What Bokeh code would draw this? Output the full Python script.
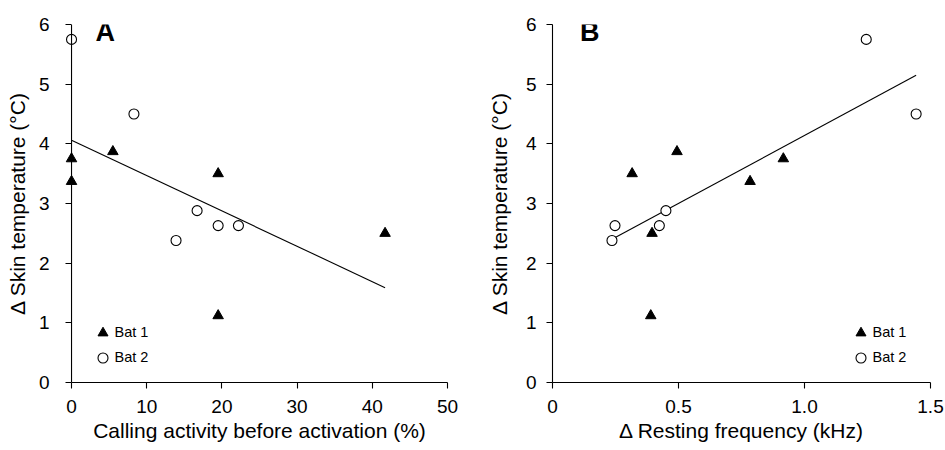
from bokeh.plotting import figure
from bokeh.layouts import row
from bokeh.models import Range1d, FixedTicker, Legend, LegendItem, Label, Span
from bokeh.embed import file_html
from bokeh.resources import INLINE

FONT = "Liberation Sans"

# ---- Panel A data ----
a_bat1_x = [0, 0, 5.5, 19.5, 19.5, 41.7]
a_bat1_y = [3.75, 3.37, 3.87, 3.50, 1.12, 2.50]
a_bat2_x = [0, 8.3, 13.9, 16.7, 19.5, 22.2]
a_bat2_y = [5.75, 4.50, 2.38, 2.88, 2.63, 2.63]
a_fit_x = [0, 41.7]
a_fit_y = [4.06, 1.59]
a_xticks = [0, 10, 20, 30, 40, 50]
a_xtick_labels = ["0", "10", "20", "30", "40", "50"]

# ---- Panel B data ----
b_bat1_x = [0.316, 0.494, 0.390, 0.395, 0.784, 0.916]
b_bat1_y = [3.50, 3.87, 1.12, 2.50, 3.37, 3.75]
b_bat2_x = [0.236, 0.248, 0.424, 0.450, 1.245, 1.443]
b_bat2_y = [2.38, 2.63, 2.63, 2.88, 5.75, 4.50]
b_fit_x = [0.236, 1.443]
b_fit_y = [2.40, 5.15]
b_xticks = [0, 0.5, 1.0, 1.5]
b_xtick_labels = ["0", "0.5", "1.0", "1.5"]

yticks = [0, 1, 2, 3, 4, 5, 6]
y_label = "\u0394 Skin temperature (\u00b0C)"
series_names = ["Bat 1", "Bat 2"]


def make_panel(letter, b1x, b1y, b2x, b2y, fx, fy, xticks, xlabels, xlabel,
               xr, width, bl, br, letter_x, leg_x, shifted_axis):
    p = figure(width=width, height=450, output_backend="svg", toolbar_location=None,
               x_range=Range1d(*xr), y_range=Range1d(0, 6),
               min_border_left=bl, min_border_right=br, min_border_top=24, min_border_bottom=68)
    p.outline_line_color = None
    p.xgrid.visible = False
    p.ygrid.visible = False
    p.background_fill_color = "white"
    p.border_fill_color = "white"

    p.line(fx, fy, line_color="black", line_width=1.1)
    r1 = p.scatter(b1x, b1y, marker="triangle", size=10.5, fill_color="black", line_color="black")
    r2 = p.scatter(b2x, b2y, marker="circle", size=10, fill_color="white", line_color="black",
                   line_width=1.1)

    for ax in (p.xaxis[0], p.yaxis[0]):
        ax.axis_line_color = "black"
        ax.axis_line_width = 1.1
        ax.major_tick_line_color = "black"
        ax.major_tick_line_width = 1.1
        ax.major_tick_in = 0
        ax.major_tick_out = 6
        ax.minor_tick_line_color = None
        ax.major_label_text_font = FONT
        ax.major_label_text_font_size = "19px"
        ax.major_label_text_color = "black"
        ax.axis_label_text_font = FONT
        ax.axis_label_text_font_size = "21px"
        ax.axis_label_text_font_style = "normal"
        ax.axis_label_text_color = "black"

    p.xaxis.ticker = FixedTicker(ticks=xticks)
    p.xaxis.major_label_overrides = {t: l for t, l in zip(xticks, xlabels)}
    p.xaxis.bounds = (xticks[0], xticks[-1])
    p.xaxis.axis_label = xlabel
    p.xaxis.major_label_standoff = 11
    p.xaxis.axis_label_standoff = 3

    p.yaxis.ticker = FixedTicker(ticks=yticks)
    p.yaxis.axis_label = y_label
    p.yaxis.major_label_standoff = 10
    p.yaxis.axis_label_standoff = 12
    if shifted_axis:
        # frame extends a little left of x=0 so markers at x=0 are not clipped;
        # the y axis line is drawn at x = first tick
        p.yaxis.axis_line_color = None
        p.yaxis.major_tick_out = -6
        p.yaxis.major_tick_in = 12
        p.yaxis.axis_label_standoff = 7
        p.add_layout(Span(location=xticks[0], dimension="height", line_color="black",
                          line_width=1.1))

    legend = Legend(items=[LegendItem(label=series_names[0], renderers=[r1]),
                           LegendItem(label=series_names[1], renderers=[r2])],
                    location=(leg_x, 12.5), orientation="vertical",
                    glyph_width=25, glyph_height=25, spacing=0, label_standoff=-3,
                    padding=0, margin=0, border_line_color=None, background_fill_alpha=0,
                    label_text_font=FONT, label_text_font_size="14.5px",
                    label_text_color="black", label_height=20)
    p.add_layout(legend, "center")

    p.add_layout(Label(x=letter_x, y=351, x_units="screen", y_units="screen", text=letter,
                       text_font=FONT, text_font_style="bold", text_font_size="27px",
                       text_baseline="alphabetic", text_color="black"))
    return p


pa = make_panel("A", a_bat1_x, a_bat1_y, a_bat2_x, a_bat2_y, a_fit_x, a_fit_y,
                a_xticks, a_xtick_labels, "Calling activity before activation (%)",
                (-1.6, 51.6), 470, 59, 11, 36, 30.5, True)
pb = make_panel("B", b_bat1_x, b_bat1_y, b_bat2_x, b_bat2_y, b_fit_x, b_fit_y,
                b_xticks, b_xtick_labels, "\u0394 Resting frequency (kHz)",
                (0, 1.5), 475, 82, 15, 27.5, 295.5, False)

layout = row(pa, pb)
open("out.html", "w").write(file_html(layout, INLINE))
